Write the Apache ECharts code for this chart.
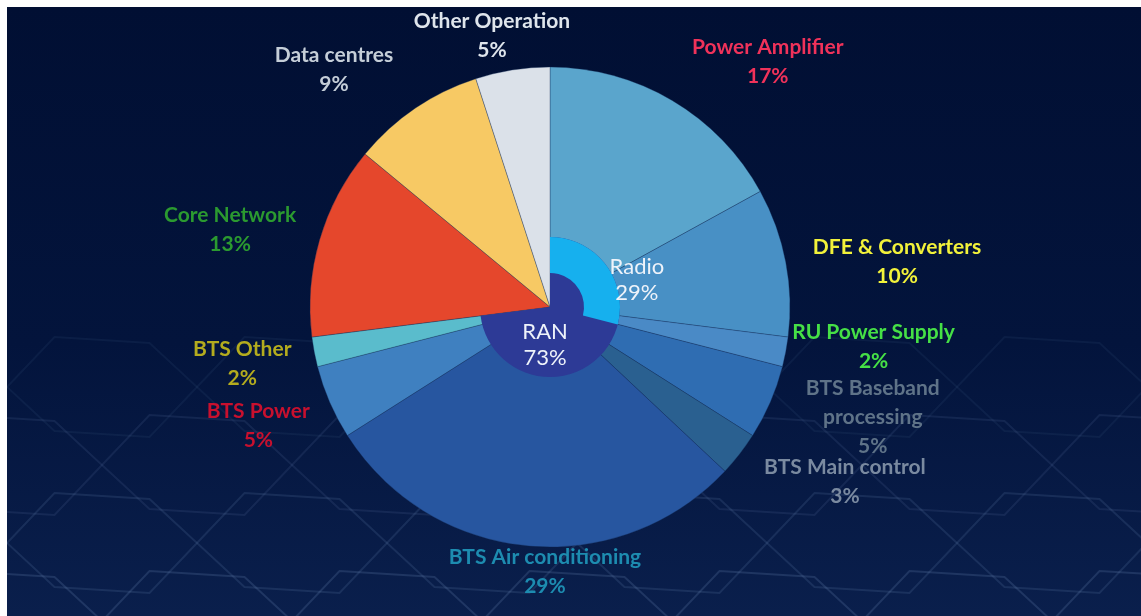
<!DOCTYPE html>
<html>
<head>
<meta charset="utf-8">
<script src="https://cdn.jsdelivr.net/npm/echarts@6/dist/echarts.min.js"></script>
<style>
  html, body { margin: 0; padding: 0; background: #fff; }
  #Pie {
    position: absolute;
    left: 7px;
    top: 7px;
    width: 1134px;
    height: 609px;
    background: linear-gradient(180deg, #010f33 0%, #03143c 55%, #0a1f4c 100%);
  }
</style>
</head>
<body>
<div id="Pie"></div>
<script>
// outer ring, clockwise from 12 o'clock
const parts = [
  'Power Amplifier', 'DFE & Converters', 'RU Power Supply', 'BTS Baseband\nprocessing',
  'BTS Main control', 'BTS Air conditioning', 'BTS Power', 'BTS Other',
  'Core Network', 'Data centres', 'Other Operation'
]
const shares = [17, 10, 2, 5, 3, 29, 5, 2, 13, 9, 5]
// inner groups
const ranShare = 73
const radioShare = 29

const sliceColors = ['#5aa5cc', '#4890c5', '#4a8ac6', '#2f6db2', '#2a6090', '#2756a0',
  '#3f80c0', '#5abccc', '#e5472c', '#f7c964', '#dbe1e9']
const labelColors = ['#f0325a', '#f2f23a', '#46e046', '#5f7388', '#7a8aa0', '#1d8cb0',
  '#c8102e', '#b4ac1e', '#2b9a30', '#c5ced8', '#dfe5ec']
// label placement: distance from centre and turn from the slice middle (degrees)
const labelDist = [328, 350, 326, 341, 343, 265, 315, 313, 329, 321, 277]
const labelTurn = [11, 3.4, -3.8, -4.6, -7.1, -4.3, 1.2, 0.3, -2.7, -8.1, -3.1]

const cx = 543
const cy = 300
const myChart = echarts.init(document.getElementById('Pie'))

function midAngles(values) {
  const total = values.reduce((a, b) => a + b, 0)
  let acc = 0
  return values.map((v) => {
    const mid = ((acc + v / 2) / total) * 360
    acc += v
    return mid
  })
}
function spot(deg, r) {
  const a = (deg * Math.PI) / 180
  return { x: cx + r * Math.sin(a), y: cy - r * Math.cos(a) }
}

// faint hexagon mesh in the background
function hexMesh() {
  const out = []
  const w = 190
  const h = 100
  for (let row = 0; row < 4; row++) {
    const y0 = 330 + row * h * 0.78
    for (let col = -1; col < 8; col++) {
      const x0 = col * w + (row % 2 ? w / 2 : 0)
      out.push({
        type: 'polygon',
        silent: true,
        z: -10,
        shape: {
          points: [
            [x0 + w * 0.25, y0], [x0 + w * 0.75, y0 + 6], [x0 + w, y0 + h * 0.5],
            [x0 + w * 0.75, y0 + h], [x0 + w * 0.25, y0 + h - 6], [x0, y0 + h * 0.5]
          ]
        },
        style: {
          fill: 'transparent',
          stroke: 'rgba(120, 150, 195, ' + (0.08 + row * 0.04) + ')',
          lineWidth: 2
        }
      })
    }
  }
  return out
}

const outerMid = midAngles(shares)
const ranMid = midAngles([ranShare, 100 - ranShare])
const radioMid = midAngles([radioShare, 100 - radioShare])

const blank = {
  itemStyle: { color: 'transparent', borderWidth: 0 },
  label: { show: false },
  emphasis: { disabled: true }
}

myChart.setOption({
  animation: false,
  graphic: hexMesh(),
  series: [
    {
      type: 'pie',
      center: [cx, cy],
      radius: [0, 240],
      startAngle: 90,
      silent: true,
      itemStyle: {
        borderColor: 'rgba(20, 45, 90, 0.55)',
        borderWidth: 0.6
      },
      label: {
        show: true,
        position: 'outside',
        fontFamily: 'Lato',
        fontWeight: 'bold',
        fontSize: 21,
        lineHeight: 29,
        align: 'center',
        formatter: (p) => p.name + '\n' + p.value + '%'
      },
      labelLine: { show: false },
      labelLayout: (p) => {
        const s = spot(outerMid[p.dataIndex] + labelTurn[p.dataIndex], labelDist[p.dataIndex])
        return { x: s.x, y: s.y, align: 'center', verticalAlign: 'middle' }
      },
      data: parts.map((name, i) => ({
        name,
        value: shares[i],
        itemStyle: { color: sliceColors[i] },
        label: { color: labelColors[i] }
      }))
    },
    {
      type: 'pie',
      center: [cx, cy],
      radius: [0, 70],
      startAngle: 90,
      silent: true,
      itemStyle: { borderWidth: 0 },
      label: {
        show: true,
        position: 'inside',
        fontFamily: 'Lato',
        fontSize: 22,
        lineHeight: 26,
        color: '#eef3fa',
        formatter: (p) => p.name + '\n' + p.value + '%'
      },
      labelLayout: (p) => {
        if (p.dataIndex !== 0) return {}
        const s = spot(ranMid[0] + 56, 38)
        return { x: s.x, y: s.y, align: 'center', verticalAlign: 'middle' }
      },
      data: [
        { name: 'RAN', value: ranShare, itemStyle: { color: '#2d3a96' } },
        Object.assign({ name: '', value: 100 - ranShare }, blank)
      ]
    },
    {
      type: 'pie',
      center: [cx, cy],
      radius: [34, 70],
      startAngle: 90,
      silent: true,
      itemStyle: { borderWidth: 0 },
      label: {
        show: true,
        position: 'inside',
        fontFamily: 'Lato',
        fontSize: 22,
        lineHeight: 26,
        color: '#eef3fa',
        formatter: (p) => p.name + '\n' + p.value + '%'
      },
      labelLayout: (p) => {
        if (p.dataIndex !== 0) return {}
        const s = spot(radioMid[0] + 20.6, 91)
        return { x: s.x, y: s.y, align: 'center', verticalAlign: 'middle' }
      },
      data: [
        { name: 'Radio', value: radioShare, itemStyle: { color: '#16b0ee' } },
        Object.assign({ name: '', value: 100 - radioShare }, blank)
      ]
    }
  ]
})
</script>
</body>
</html>
